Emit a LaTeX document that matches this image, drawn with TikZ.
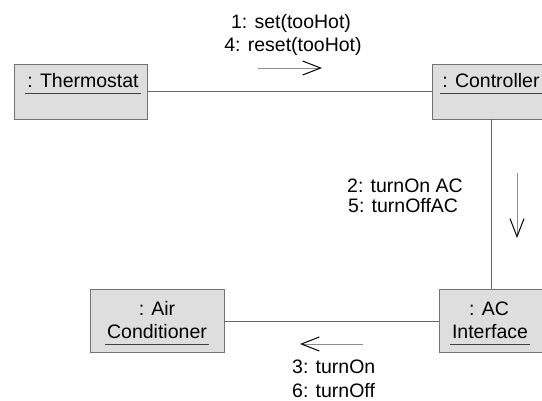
\documentclass[tikz,border=0pt]{standalone}
\usepackage{fontspec}
\setmainfont{Liberation Sans}
\usetikzlibrary{arrows.meta}
\begin{document}
\begin{tikzpicture}[x=1pt,y=-1pt,
  obj/.style={draw=black!55, line width=0.7pt, fill=black!13, rectangle, inner sep=0pt},
  objname/.style={font=\fontsize{19.5}{23}\selectfont, inner sep=0pt, inner xsep=2pt, anchor=base},
  msgtext/.style={font=\fontsize{19.5}{23}\selectfont, inner sep=0pt},
  link/.style={draw=black!60, line width=0.6pt},
  uline/.style={draw=black!75, line width=0.6pt},
  msg/.style={draw=black!45, line width=0.6pt,
    -{Straight Barb[length=18pt,width=14pt,line width=1pt,color=black]}}
]
\useasboundingbox (0,0) rectangle (542,400);

% objects
\node[obj, minimum width=133pt, minimum height=55pt] (thermo) at (80.5,91.5) {};
\node[obj, minimum width=118pt, minimum height=55pt] (ctrl) at (491,91.5) {};
\node[obj, minimum width=104pt, minimum height=63pt] (aci) at (491,321) {};
\node[obj, minimum width=134pt, minimum height=63pt] (airc) at (157,321) {};

% object names, underlined
\node[objname] (thT) at (83,87) {: Thermostat};
\node[objname] (ctT) at (491,87) {: Controller};
\node[objname] (airT1) at (157,315) {: Air};
\node[objname] (airT2) at (157,338) {Conditioner};
\node[objname] (aciT1) at (489,315) {: AC};
\node[objname] (aciT2) at (490,338) {Interface};
\foreach \t in {thT,ctT,airT2,aciT2}
  \draw[uline] ([yshift=-6pt]\t.base west) -- ([yshift=-6pt]\t.base east);

% links
\draw[link] (thermo) -- (ctrl);
\draw[link] (ctrl) -- (aci);
\draw[link] (aci) -- (airc);

% messages
\coordinate (m1a) at (258,68);
\coordinate (m1b) at (322,68);
\draw[msg] (m1a) -- (m1b);
\node[msgtext, anchor=base] (m1t1) at (291,28) {1: set(tooHot)};
\node[msgtext, anchor=base] (m1t2) at (293,51) {4: reset(tooHot)};

\coordinate (m2a) at (517,173);
\coordinate (m2b) at (517,238);
\draw[msg] (m2a) -- (m2b);
\node[msgtext, anchor=base west] (m2t1) at (347,192) {2: turnOn AC};
\node[msgtext, anchor=base west] (m2t2) at (348,212) {5: turnOffAC};

\coordinate (m3a) at (363,344);
\coordinate (m3b) at (300,344);
\draw[msg] (m3a) -- (m3b);
\node[msgtext, anchor=base west] (m3t1) at (292,373) {3: turnOn};
\node[msgtext, anchor=base west] (m3t2) at (292,397) {6: turnOff};
\end{tikzpicture}
\end{document}
